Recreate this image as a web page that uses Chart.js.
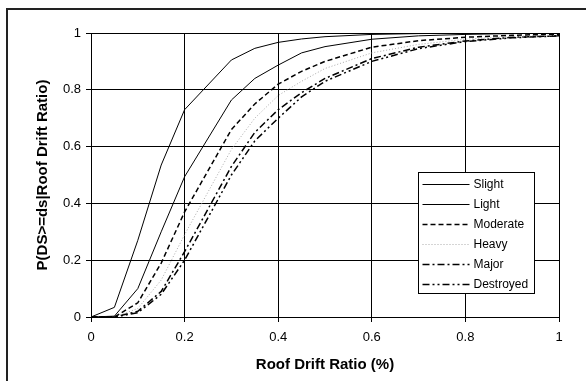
<!DOCTYPE html>
<html>
<head>
<meta charset="utf-8">
<script src="https://cdn.jsdelivr.net/npm/chart.js@4/dist/chart.umd.min.js"></script>
<style>
  html, body { margin: 0; padding: 0; background: #fff; }
  #wrap { width: 586px; height: 381px; position: relative; }
</style>
</head>
<body>
<div id="wrap"><canvas id="fragility"></canvas></div>
<script>
// roof drift ratio (%) sample points
const driftRatio = [0, 0.05, 0.1, 0.15, 0.2, 0.3, 0.35, 0.4, 0.45, 0.5, 0.6, 0.7, 0.8, 0.9, 1.0];

// P(DS>=ds | RDR) per damage state
const slight    = [0, 0.034, 0.27, 0.535, 0.73, 0.905, 0.946, 0.967, 0.979, 0.987, 0.995, 0.998, 0.999, 1, 1];
const light     = [0, 0.003, 0.10, 0.30, 0.494, 0.764, 0.84, 0.887, 0.93, 0.952, 0.978, 0.99, 0.995, 0.998, 0.999];
const moderate  = [0, 0, 0.05, 0.19, 0.37, 0.66, 0.75, 0.82, 0.865, 0.90, 0.95, 0.973, 0.985, 0.992, 0.996];
const heavy     = [0, 0, 0.03, 0.13, 0.29, 0.59, 0.70, 0.78, 0.83, 0.875, 0.93, 0.96, 0.978, 0.988, 0.993];
const major     = [0, 0, 0.02, 0.09, 0.23, 0.53, 0.65, 0.73, 0.79, 0.84, 0.91, 0.95, 0.972, 0.985, 0.99];
const destroyed = [0, 0, 0.015, 0.08, 0.20, 0.50, 0.62, 0.70, 0.775, 0.83, 0.90, 0.945, 0.97, 0.983, 0.99];

const xTicks = [0, 0.2, 0.4, 0.6, 0.8, 1];
const yTicks = [0, 0.2, 0.4, 0.6, 0.8, 1];

const FONT = "'Liberation Sans', Arial, sans-serif";

const toPoints = arr => arr.map((v, i) => ({ x: driftRatio[i], y: v }));

function series(label, values, color, dash, width) {
  return {
    label: label,
    data: toPoints(values),
    borderColor: color,
    borderDash: dash,
    borderWidth: width,
    pointRadius: 0,
    tension: 0,
    fill: false
  };
}

// white page + frame line (only left/top fall inside the image)
const framePlugin = {
  id: "frame",
  beforeDraw(chart) {
    const ctx = chart.ctx;
    ctx.save();
    ctx.fillStyle = "#fff";
    ctx.fillRect(0, 0, chart.width, chart.height);
    ctx.strokeStyle = "#222";
    ctx.lineWidth = 2;
    ctx.strokeRect(7, 9, 700, 500);
    ctx.restore();
  }
};

// boxed legend sitting inside the plot, like the spreadsheet one
const boxLegend = {
  id: "boxLegend",
  afterDraw(chart) {
    const ctx = chart.ctx;
    const bx = 418.5, by = 172.5, bw = 116, bh = 121;
    ctx.save();
    ctx.fillStyle = "#fff";
    ctx.fillRect(bx, by, bw, bh);
    ctx.strokeStyle = "#000";
    ctx.lineWidth = 1;
    ctx.strokeRect(bx, by, bw, bh);
    ctx.font = "12px " + FONT;
    ctx.textBaseline = "middle";
    chart.data.datasets.forEach((ds, i) => {
      const y = Math.round(by + 11 + i * 20.1) + 0.5;
      ctx.strokeStyle = ds.borderColor;
      ctx.lineWidth = ds.borderWidth;
      ctx.setLineDash(ds.borderDash || []);
      ctx.beginPath();
      ctx.moveTo(bx + 4, y);
      ctx.lineTo(bx + 51, y);
      ctx.stroke();
      ctx.setLineDash([]);
      ctx.fillStyle = "#000";
      ctx.fillText(ds.label, bx + 55, y);
    });
    ctx.restore();
  }
};

new Chart(document.getElementById("fragility"), {
  type: "line",
  data: {
    datasets: [
      series("Slight", slight, "#000", [], 1),
      series("Light", light, "#000", [], 1),
      series("Moderate", moderate, "#000", [5, 3], 1.5),
      series("Heavy", heavy, "#aaa", [1, 2], 1),
      series("Major", major, "#000", [7, 3, 2, 3], 1.5),
      series("Destroyed", destroyed, "#000", [7, 3, 2, 3, 2, 3], 1.5)
    ]
  },
  plugins: [framePlugin, boxLegend],
  options: {
    responsive: true,
    maintainAspectRatio: false,
    animation: false,
    layout: { padding: { top: 33, right: 27, left: 34, bottom: 7 } },
    plugins: { legend: { display: false }, tooltip: { enabled: false } },
    scales: {
      x: {
        type: "linear",
        min: 0,
        max: 1,
        afterFit: s => { s.height = 57; },
        afterBuildTicks: s => { s.ticks = xTicks.map(v => ({ value: v })); },
        border: { color: "#000", width: 1 },
        grid: { color: "#000", lineWidth: 1, tickLength: 5, drawTicks: true },
        ticks: {
          color: "#000",
          padding: 8,
          maxRotation: 0,
          font: { family: FONT, size: 13 },
          callback: v => String(v)
        },
        title: {
          display: true,
          text: "Roof Drift Ratio (%)",
          color: "#000",
          padding: { top: 4, bottom: 0 },
          font: { family: FONT, size: 15, weight: "bold" }
        }
      },
      y: {
        type: "linear",
        min: 0,
        max: 1,
        afterFit: s => { s.width = 57; },
        afterBuildTicks: s => { s.ticks = yTicks.map(v => ({ value: v })); },
        border: { color: "#000", width: 1 },
        grid: { color: "#000", lineWidth: 1, tickLength: 5, drawTicks: true },
        ticks: {
          color: "#000",
          padding: 5,
          font: { family: FONT, size: 13 },
          callback: v => String(v)
        },
        title: {
          display: true,
          text: "P(DS>=ds|Roof Drift Ratio)",
          color: "#000",
          padding: { top: 0, bottom: 0 },
          font: { family: FONT, size: 15, weight: "bold" }
        }
      }
    }
  }
});
</script>
</body>
</html>
